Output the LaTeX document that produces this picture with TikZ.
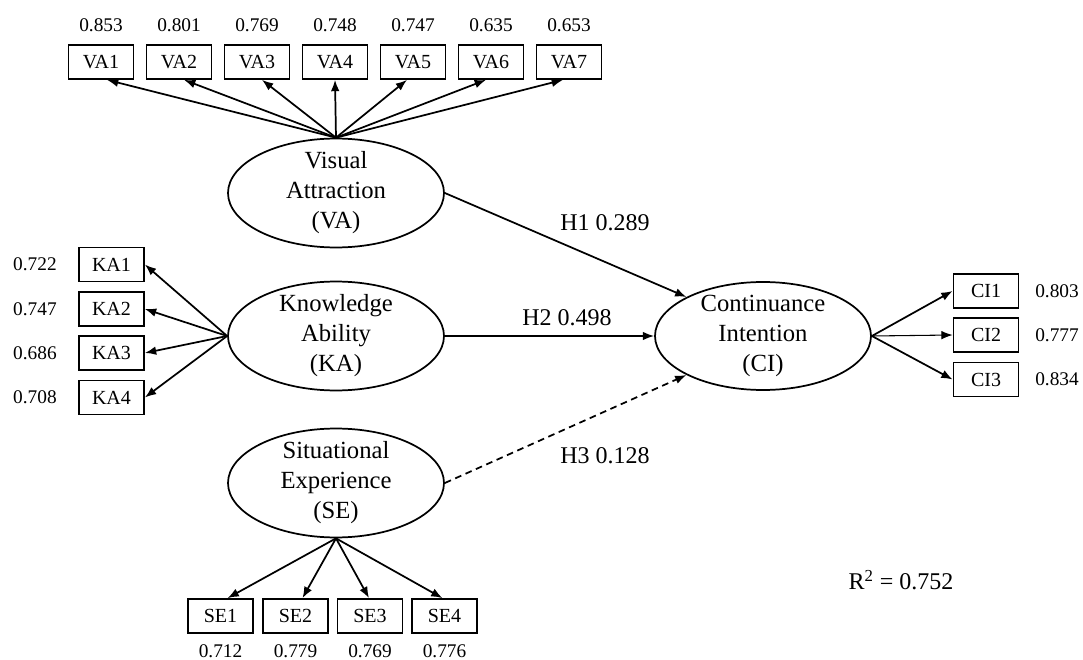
\documentclass[tikz,border=0pt]{standalone}
\usepackage{fontspec}
\setmainfont{Liberation Serif}
\usetikzlibrary{shapes.geometric,arrows.meta,calc}

\begin{document}
\begin{tikzpicture}[x=0.75pt,y=-0.75pt,
  item/.style={draw,line width=1.3pt,minimum width=48.75pt,minimum height=25.5pt,inner sep=0pt,font=\fontsize{15}{17}\selectfont},
  latent/.style={draw,ellipse,line width=1.3pt,minimum width=162pt,minimum height=81pt,inner xsep=0pt,inner ysep=-2pt,align=center,font=\fontsize{18.5}{22.5}\selectfont},
  load/.style={font=\fontsize{14.5}{16}\selectfont},
  coef/.style={font=\fontsize{18}{20}\selectfont},
  link/.style={line width=1.3pt,-{Latex[length=8.5pt,width=6.5pt]}}]
\useasboundingbox (0,0) rectangle (1083,660);

\node[latent] (VA) at (336,193) {Visual\\Attraction\\(VA)};
\node[latent] (KA) at (336,336) {Knowledge\\Ability\\(KA)};
\node[latent] (SE) at (336,483) {Situational\\Experience\\(SE)};
\node[latent] (CI) at (763,336) {Continuance\\Intention\\(CI)};

\node[item] (VA1) at (101,62) {VA1};
\node[item] (VA2) at (179,62) {VA2};
\node[item] (VA3) at (257,62) {VA3};
\node[item] (VA4) at (335,62) {VA4};
\node[item] (VA5) at (413,62) {VA5};
\node[item] (VA6) at (491,62) {VA6};
\node[item] (VA7) at (569,62) {VA7};
\node[load] (wVA1) at (101,25) {0.853};
\node[load] (wVA2) at (179,25) {0.801};
\node[load] (wVA3) at (257,25) {0.769};
\node[load] (wVA4) at (335,25) {0.748};
\node[load] (wVA5) at (413,25) {0.747};
\node[load] (wVA6) at (491,25) {0.635};
\node[load] (wVA7) at (569,25) {0.653};

\node[item] (KA1) at (111.5,264.5) {KA1};
\node[item] (KA2) at (111.5,309) {KA2};
\node[item] (KA3) at (111.5,353) {KA3};
\node[item] (KA4) at (111.5,397.5) {KA4};
\node[load] (wKA1) at (35,264.5) {0.722};
\node[load] (wKA2) at (35,309) {0.747};
\node[load] (wKA3) at (35,353) {0.686};
\node[load] (wKA4) at (35,397.5) {0.708};

\node[item] (SE1) at (220.5,616) {SE1};
\node[item] (SE2) at (295.5,616) {SE2};
\node[item] (SE3) at (370,616) {SE3};
\node[item] (SE4) at (444.5,616) {SE4};
\node[load] (wSE1) at (220.5,651) {0.712};
\node[load] (wSE2) at (295.5,651) {0.779};
\node[load] (wSE3) at (370,651) {0.769};
\node[load] (wSE4) at (444.5,651) {0.776};

\node[item] (CI1) at (986,291) {CI1};
\node[item] (CI2) at (986,335) {CI2};
\node[item] (CI3) at (986,379.5) {CI3};
\node[load] (wCI1) at (1057,291) {0.803};
\node[load] (wCI2) at (1057,335) {0.777};
\node[load] (wCI3) at (1057,379.5) {0.834};

\draw[link] (VA.north) -- ($(VA1.south)+(6,0)$);
\draw[link] (VA.north) -- ($(VA2.south)+(5,0)$);
\draw[link] (VA.north) -- ($(VA3.south)+(5,0)$);
\draw[link] (VA.north) -- (VA4.south);
\draw[link] (VA.north) -- ($(VA5.south)+(-6,0)$);
\draw[link] (VA.north) -- ($(VA6.south)+(-5,0)$);
\draw[link] (VA.north) -- ($(VA7.south)+(-6,0)$);

\draw[link] (KA.west) -- (KA1.east);
\draw[link] (KA.west) -- (KA2.east);
\draw[link] (KA.west) -- (KA3.east);
\draw[link] (KA.west) -- (KA4.east);

\draw[link] (SE.south) -- ($(SE1.north)+(7,0)$);
\draw[link] (SE.south) -- ($(SE2.north)+(7,0)$);
\draw[link] (SE.south) -- ($(SE3.north)+(-1,0)$);
\draw[link] (SE.south) -- ($(SE4.north)+(-2,0)$);

\draw[link] (CI.east) -- (CI1.west);
\draw[link, line width=0.8pt] (CI.east) -- (CI2.west);
\draw[link] (CI.east) -- (CI3.west);

\draw[link] (VA.east) -- (CI.153);
\draw[link] (KA.east) -- (CI.west);
\draw[link, dash pattern=on 5pt off 3.5pt] (SE.east) -- (CI.207);

\node[coef] (H1) at (605,223) {H1 0.289};
\node[coef] (H2) at (567,318) {H2 0.498};
\node[coef] (H3) at (605,456) {H3 0.128};
\node[coef] (R2) at (901,580) {R\textsuperscript{2} = 0.752};
\end{tikzpicture}
\end{document}
